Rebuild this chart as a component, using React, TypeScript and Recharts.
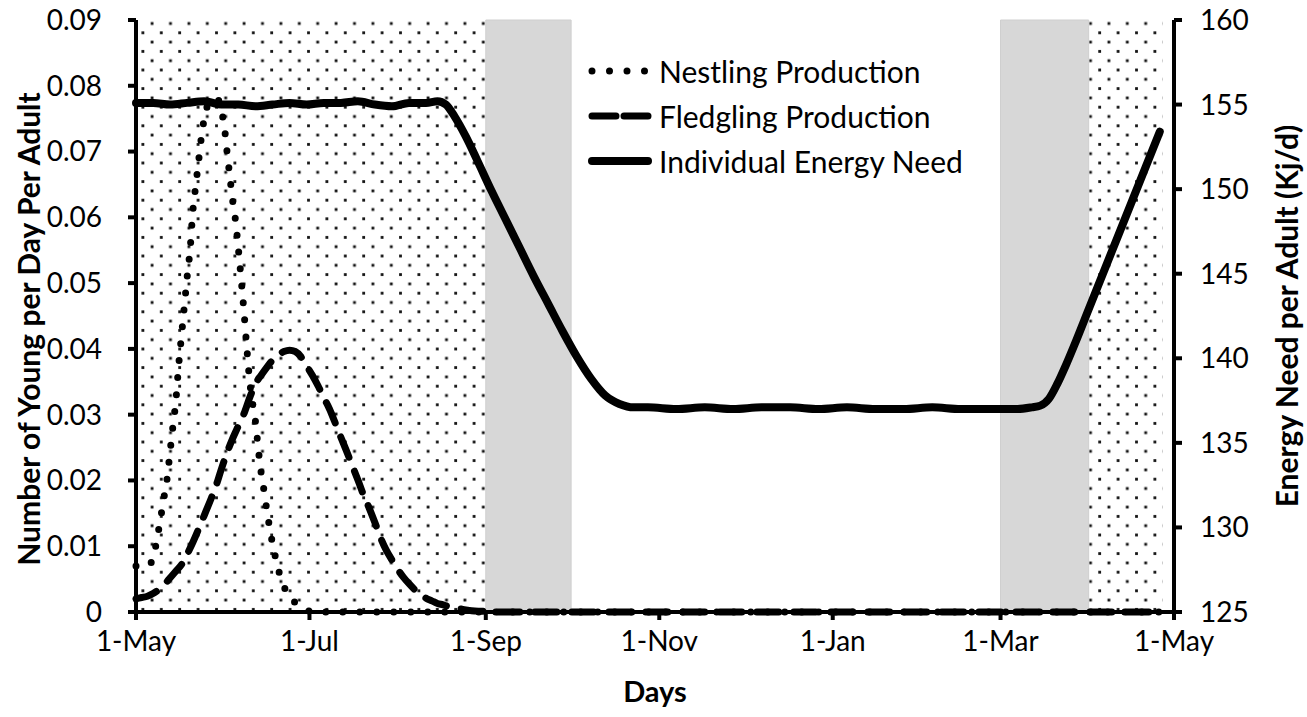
import React from 'react';
import {
  ComposedChart, Line, XAxis, YAxis, ReferenceArea, Legend, Label,
} from 'recharts';

// ---------- data ----------
const xTickDays = [0, 61, 123, 184, 245, 304, 365];
const xTickLabels = ['1-May', '1-Jul', '1-Sep', '1-Nov', '1-Jan', '1-Mar', '1-May'];
const leftTicks = [0, 0.01, 0.02, 0.03, 0.04, 0.05, 0.06, 0.07, 0.08, 0.09];
const rightTicks = [125, 130, 135, 140, 145, 150, 155, 160];

const dottedPeriods = [[0, 123], [335, 361]];
const grayPeriods = [[123, 153], [304, 335]];

const nestlingDays = [0, 2, 4, 5, 6, 7, 8, 9, 10, 11, 12, 13, 14, 15, 16, 17, 18, 19, 20, 21, 22, 23, 24, 25, 27, 29, 30, 31, 32, 33, 34, 35, 36, 37, 38, 39, 40, 41, 42, 43, 44, 45, 46, 47, 48, 49, 50, 51, 52, 54, 56, 58, 60, 62, 361];
const nestlingValues = [0.007, 0.0068, 0.007, 0.0073, 0.0082, 0.0102, 0.0126, 0.0152, 0.0178, 0.0205, 0.0245, 0.0283, 0.032, 0.0375, 0.042, 0.0465, 0.051, 0.055, 0.061, 0.0648, 0.0685, 0.0722, 0.075, 0.0768, 0.078, 0.0778, 0.0762, 0.074, 0.07, 0.0662, 0.0625, 0.0595, 0.0552, 0.0505, 0.0455, 0.04, 0.035, 0.0318, 0.029, 0.0248, 0.0212, 0.0185, 0.0155, 0.0128, 0.0104, 0.0084, 0.0066, 0.005, 0.0039, 0.0024, 0.0014, 0.0008, 0.0003, 0, 0];

const fledglingDays = [0, 2, 4, 6, 8, 10, 12, 14, 16, 18, 20, 22, 24, 26, 28, 30, 32, 34, 36, 38, 40, 42, 44, 46, 48, 50, 52, 54, 56, 58, 60, 62, 64, 66, 68, 70, 72, 74, 76, 78, 80, 82, 84, 86, 88, 90, 92, 94, 96, 98, 100, 102, 104, 106, 108, 110, 112, 115, 118, 122, 125, 361];
const fledglingValues = [0.002, 0.0022, 0.0024, 0.0028, 0.0034, 0.0042, 0.0052, 0.0062, 0.0072, 0.0088, 0.0106, 0.0126, 0.0147, 0.0168, 0.019, 0.0217, 0.0242, 0.0264, 0.0283, 0.0302, 0.0326, 0.0347, 0.036, 0.0372, 0.0383, 0.0391, 0.0396, 0.0398, 0.0396, 0.0388, 0.0374, 0.036, 0.0344, 0.0326, 0.0309, 0.0288, 0.0266, 0.0245, 0.0223, 0.0201, 0.0178, 0.0158, 0.0136, 0.0113, 0.0094, 0.0079, 0.0065, 0.0053, 0.0043, 0.0034, 0.0027, 0.0021, 0.0017, 0.0013, 0.0011, 0.0008, 0.0006, 0.0004, 0.0002, 0.0001, 0, 0];

const energyDays = [0, 6, 12, 18, 24, 30, 36, 42, 48, 54, 60, 66, 72, 78, 84, 90, 96, 102, 106, 109, 112, 116, 120, 125, 130, 135, 140, 145, 150, 155, 160, 165, 170, 175, 180, 190, 200, 210, 220, 230, 240, 250, 260, 270, 280, 290, 300, 310, 315, 318, 321, 324, 327, 330, 335, 340, 345, 350, 355, 360];
const energyValues = [155.1, 155.1, 155.0, 155.1, 155.2, 155.0, 155.0, 154.9, 155.0, 155.1, 155.0, 155.1, 155.1, 155.2, 155.0, 154.9, 155.1, 155.1, 155.2, 155.0, 154.3, 153.1, 151.7, 149.9, 148.2, 146.5, 144.8, 143.2, 141.6, 140.1, 138.8, 137.8, 137.3, 137.1, 137.1, 137.0, 137.1, 137.0, 137.1, 137.1, 137.0, 137.1, 137.0, 137.0, 137.1, 137.0, 137.0, 137.0, 137.1, 137.2, 137.6, 138.5, 139.6, 140.8, 142.9, 145.0, 147.1, 149.2, 151.3, 153.4];

const seriesNames = ['Nestling Production', 'Fledgling Production', 'Individual Energy Need'];

const zip = (days: number[], vals: number[]) => days.map((d, i) => ({ day: d, v: vals[i] }));
const nestlingData = zip(nestlingDays, nestlingValues);
const fledglingData = zip(fledglingDays, fledglingValues);
const energyData = zip(energyDays, energyValues);

// ---------- styles ----------
const FONT = 'Lato, "Open Sans", sans-serif';
const lineStyles = [
  { strokeWidth: 7, strokeDasharray: '0 17', strokeLinecap: 'round' as const },
  { strokeWidth: 7, strokeDasharray: '22 15', strokeLinecap: 'round' as const },
  { strokeWidth: 8, strokeDasharray: undefined, strokeLinecap: 'round' as const },
];
const legendStyles = [
  { strokeWidth: 7, strokeDasharray: '0 17.5', strokeLinecap: 'round' as const },
  { strokeWidth: 7, strokeDasharray: '24 8', strokeLinecap: 'round' as const },
  { strokeWidth: 8, strokeDasharray: undefined, strokeLinecap: 'round' as const },
];

const LegendContent = () => (
  <div style={{ fontFamily: FONT, fontSize: 30, color: '#000' }}>
    {seriesNames.map((name, i) => (
      <div key={name} style={{ display: 'flex', alignItems: 'center', height: 45 }}>
        <svg width={72} height={20} style={{ display: 'block' }}>
          <line x1={4} y1={10} x2={60} y2={10} stroke="#000" {...legendStyles[i]} />
        </svg>
        <span style={{ whiteSpace: 'nowrap', marginLeft: -1 }}>{name}</span>
      </div>
    ))}
  </div>
);

const leftTitle = (props: any) => {
  const vb = props.viewBox;
  const x = vb.x + 28;
  const y = vb.y + vb.height / 2 + 13;
  return (
    <text x={x} y={y} transform={`rotate(-90, ${x}, ${y})`} textAnchor="middle" dominantBaseline="central"
      fontFamily={FONT} fontWeight="bold" fontSize={30} fill="#000">
      Number of Young per Day Per Adult
    </text>
  );
};
const rightTitle = (props: any) => {
  const vb = props.viewBox;
  const x = vb.x + 112;
  const y = vb.y + vb.height / 2;
  return (
    <text x={x} y={y} transform={`rotate(-90, ${x}, ${y})`} textAnchor="middle" dominantBaseline="central"
      fontFamily={FONT} fontWeight="bold" fontSize={30} fill="#000">
      Energy Need per Adult (Kj/d)
    </text>
  );
};
const bottomTitle = (props: any) => {
  const vb = props.viewBox;
  const x = vb.x + vb.width / 2;
  const y = vb.y + 78;
  return (
    <text x={x} y={y} textAnchor="middle" dominantBaseline="central"
      fontFamily={FONT} fontWeight="bold" fontSize={29} fill="#000">
      Days
    </text>
  );
};

const tickStyle = { fontFamily: FONT, fontSize: 28, fill: '#000' };
const axisLine = { stroke: '#000', strokeWidth: 4 };

export default function App() {
  return (
    <div style={{ width: 1307, height: 717, overflow: 'hidden' }}>
      <style>{'html,body{margin:0;padding:0;overflow:hidden;}'}</style>
      <ComposedChart width={1307} height={717} margin={{ top: 20, right: 0, bottom: 0, left: 0 }}>
        <defs>
          <pattern id="dots" patternUnits="userSpaceOnUse" width={18.4} height={18.6}>
            <rect width={18.4} height={18.6} fill="#fff" />
            <rect x={3.5} y={3.5} width={2.8} height={2.8} fill="#111" />
            <rect x={12.7} y={12.8} width={2.8} height={2.8} fill="#111" />
          </pattern>
        </defs>
        <XAxis dataKey="day" type="number" domain={[0, 365]} ticks={xTickDays}
          tickFormatter={(d: number) => xTickLabels[xTickDays.indexOf(d)]}
          allowDuplicatedCategory={false} height={105} tick={tickStyle}
          axisLine={axisLine} tickLine={axisLine} tickSize={8} tickMargin={11} interval={0}>
          <Label content={bottomTitle} />
        </XAxis>
        <YAxis yAxisId="left" domain={[0, 0.09]} ticks={leftTicks} width={136}
          tickFormatter={(v: number) => (v === 0 ? '0' : v.toFixed(2))} tick={tickStyle}
          axisLine={axisLine} tickLine={axisLine} tickSize={8} tickMargin={26} interval={0}>
          <Label content={leftTitle} />
        </YAxis>
        <YAxis yAxisId="right" orientation="right" domain={[125, 160]} ticks={rightTicks} width={133}
          tick={tickStyle} axisLine={axisLine} tickLine={axisLine} tickSize={8} tickMargin={18} interval={0}>
          <Label content={rightTitle} />
        </YAxis>
        {dottedPeriods.map(([a, b], i) => (
          <ReferenceArea key={'d' + i} yAxisId="left" x1={a} x2={b} fill="url(#dots)" fillOpacity={1} stroke="none" />
        ))}
        {grayPeriods.map(([a, b], i) => (
          <ReferenceArea key={'g' + i} yAxisId="left" x1={a} x2={b} fill="#d7d7d7" fillOpacity={1} stroke="#cfcfcf" strokeWidth={1} />
        ))}
        <Line yAxisId="left" data={nestlingData} dataKey="v" name={seriesNames[0]} type="monotone"
          stroke="#000" dot={false} activeDot={false} isAnimationActive={false} {...lineStyles[0]} />
        <Line yAxisId="left" data={fledglingData} dataKey="v" name={seriesNames[1]} type="monotone"
          stroke="#000" dot={false} activeDot={false} isAnimationActive={false} {...lineStyles[1]} />
        <Line yAxisId="right" data={energyData} dataKey="v" name={seriesNames[2]} type="monotone"
          stroke="#000" dot={false} activeDot={false} isAnimationActive={false} {...lineStyles[2]} />
        <Legend layout="horizontal" verticalAlign="middle" align="center" content={<LegendContent />}
          wrapperStyle={{ position: 'absolute', left: 588, top: 48, width: 'auto' }} />
      </ComposedChart>
    </div>
  );
}
